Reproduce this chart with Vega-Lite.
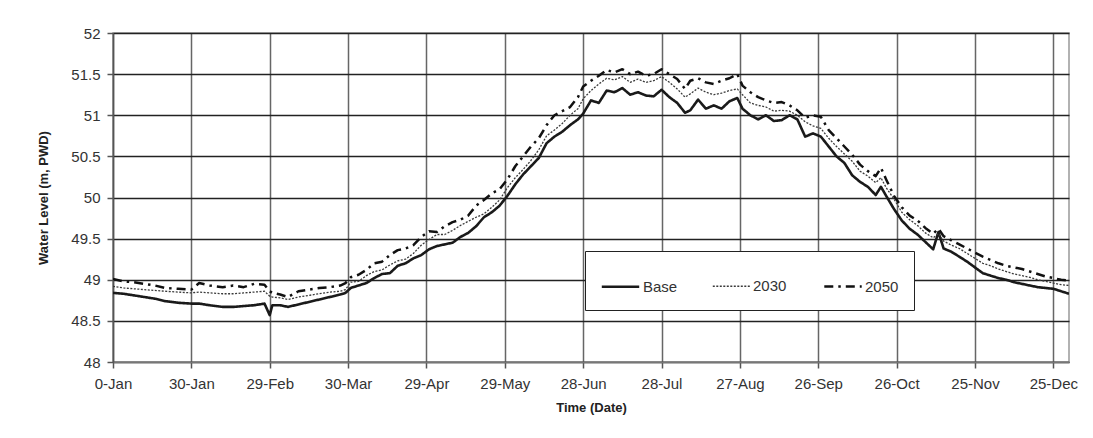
{
  "$schema": "https://vega.github.io/schema/vega-lite/v6.json",
  "width": 956,
  "height": 329,
  "autosize": "none",
  "padding": {"left": 113, "top": 33, "right": 24, "bottom": 76},
  "background": "white",
  "config": {
    "view": {"stroke": "#999999", "strokeWidth": 1.5},
    "font": "Liberation Sans"
  },
  "data": {"values": [
    {"d":0,"Base":48.84,"2030":48.92,"2050":49.01},
    {"d":4,"Base":48.83,"2030":48.90,"2050":48.98},
    {"d":8,"Base":48.81,"2030":48.89,"2050":48.97},
    {"d":12,"Base":48.79,"2030":48.88,"2050":48.95},
    {"d":16,"Base":48.77,"2030":48.87,"2050":48.93},
    {"d":20,"Base":48.74,"2030":48.86,"2050":48.90},
    {"d":25,"Base":48.72,"2030":48.85,"2050":48.89},
    {"d":30,"Base":48.71,"2030":48.84,"2050":48.88},
    {"d":33,"Base":48.71,"2030":48.85,"2050":48.96},
    {"d":37,"Base":48.69,"2030":48.84,"2050":48.93},
    {"d":42,"Base":48.67,"2030":48.83,"2050":48.91},
    {"d":46,"Base":48.67,"2030":48.83,"2050":48.93},
    {"d":50,"Base":48.68,"2030":48.84,"2050":48.91},
    {"d":54,"Base":48.69,"2030":48.85,"2050":48.95},
    {"d":58,"Base":48.71,"2030":48.86,"2050":48.94},
    {"d":60,"Base":48.57,"2030":48.80,"2050":48.86},
    {"d":61,"Base":48.69,"2030":48.79,"2050":48.84},
    {"d":64,"Base":48.69,"2030":48.78,"2050":48.82},
    {"d":67,"Base":48.67,"2030":48.76,"2050":48.79},
    {"d":71,"Base":48.70,"2030":48.79,"2050":48.86},
    {"d":75,"Base":48.73,"2030":48.81,"2050":48.88},
    {"d":79,"Base":48.76,"2030":48.83,"2050":48.90},
    {"d":83,"Base":48.79,"2030":48.85,"2050":48.91},
    {"d":87,"Base":48.82,"2030":48.86,"2050":48.93},
    {"d":89,"Base":48.84,"2030":48.88,"2050":48.96},
    {"d":91,"Base":48.90,"2030":48.97,"2050":49.03},
    {"d":94,"Base":48.93,"2030":48.98,"2050":49.06},
    {"d":97,"Base":48.96,"2030":49.05,"2050":49.12},
    {"d":100,"Base":49.02,"2030":49.10,"2050":49.20},
    {"d":103,"Base":49.07,"2030":49.12,"2050":49.22},
    {"d":106,"Base":49.08,"2030":49.18,"2050":49.30},
    {"d":109,"Base":49.17,"2030":49.23,"2050":49.36},
    {"d":112,"Base":49.20,"2030":49.25,"2050":49.38},
    {"d":115,"Base":49.26,"2030":49.32,"2050":49.42},
    {"d":118,"Base":49.30,"2030":49.42,"2050":49.52},
    {"d":121,"Base":49.37,"2030":49.49,"2050":49.59},
    {"d":124,"Base":49.41,"2030":49.55,"2050":49.58},
    {"d":127,"Base":49.43,"2030":49.55,"2050":49.65},
    {"d":130,"Base":49.45,"2030":49.60,"2050":49.70},
    {"d":133,"Base":49.52,"2030":49.66,"2050":49.73},
    {"d":136,"Base":49.57,"2030":49.71,"2050":49.78},
    {"d":139,"Base":49.65,"2030":49.76,"2050":49.90},
    {"d":142,"Base":49.76,"2030":49.80,"2050":49.97},
    {"d":145,"Base":49.82,"2030":49.88,"2050":50.05},
    {"d":148,"Base":49.90,"2030":49.97,"2050":50.10},
    {"d":151,"Base":50.02,"2030":50.12,"2050":50.22},
    {"d":154,"Base":50.16,"2030":50.24,"2050":50.38},
    {"d":157,"Base":50.28,"2030":50.34,"2050":50.50},
    {"d":160,"Base":50.38,"2030":50.45,"2050":50.62},
    {"d":163,"Base":50.48,"2030":50.58,"2050":50.72},
    {"d":166,"Base":50.66,"2030":50.75,"2050":50.88},
    {"d":169,"Base":50.74,"2030":50.82,"2050":51.00},
    {"d":172,"Base":50.80,"2030":50.90,"2050":51.05},
    {"d":175,"Base":50.88,"2030":51.00,"2050":51.10},
    {"d":178,"Base":50.95,"2030":51.08,"2050":51.22},
    {"d":180,"Base":51.02,"2030":51.20,"2050":51.35},
    {"d":183,"Base":51.18,"2030":51.30,"2050":51.42},
    {"d":186,"Base":51.15,"2030":51.38,"2050":51.48},
    {"d":189,"Base":51.30,"2030":51.45,"2050":51.55},
    {"d":192,"Base":51.28,"2030":51.43,"2050":51.52},
    {"d":195,"Base":51.33,"2030":51.47,"2050":51.56},
    {"d":198,"Base":51.25,"2030":51.40,"2050":51.50},
    {"d":201,"Base":51.28,"2030":51.44,"2050":51.53},
    {"d":204,"Base":51.24,"2030":51.40,"2050":51.48},
    {"d":207,"Base":51.23,"2030":51.42,"2050":51.50},
    {"d":210,"Base":51.31,"2030":51.47,"2050":51.56},
    {"d":213,"Base":51.22,"2030":51.40,"2050":51.50},
    {"d":216,"Base":51.15,"2030":51.32,"2050":51.44},
    {"d":219,"Base":51.03,"2030":51.22,"2050":51.32},
    {"d":221,"Base":51.06,"2030":51.26,"2050":51.42},
    {"d":224,"Base":51.19,"2030":51.33,"2050":51.45},
    {"d":227,"Base":51.08,"2030":51.28,"2050":51.40},
    {"d":230,"Base":51.12,"2030":51.25,"2050":51.38},
    {"d":233,"Base":51.08,"2030":51.27,"2050":51.42},
    {"d":236,"Base":51.17,"2030":51.30,"2050":51.45},
    {"d":239,"Base":51.21,"2030":51.32,"2050":51.50},
    {"d":241,"Base":51.08,"2030":51.25,"2050":51.36},
    {"d":244,"Base":51.00,"2030":51.15,"2050":51.28},
    {"d":247,"Base":50.95,"2030":51.12,"2050":51.22},
    {"d":250,"Base":51.00,"2030":51.10,"2050":51.18},
    {"d":253,"Base":50.93,"2030":51.05,"2050":51.15},
    {"d":256,"Base":50.94,"2030":51.06,"2050":51.16},
    {"d":259,"Base":51.00,"2030":51.05,"2050":51.12},
    {"d":262,"Base":50.95,"2030":51.00,"2050":51.06},
    {"d":265,"Base":50.74,"2030":50.92,"2050":50.97},
    {"d":268,"Base":50.78,"2030":50.87,"2050":51.00},
    {"d":271,"Base":50.74,"2030":50.84,"2050":50.98},
    {"d":274,"Base":50.62,"2030":50.72,"2050":50.82},
    {"d":277,"Base":50.50,"2030":50.62,"2050":50.72},
    {"d":280,"Base":50.42,"2030":50.53,"2050":50.62},
    {"d":283,"Base":50.27,"2030":50.44,"2050":50.52},
    {"d":286,"Base":50.19,"2030":50.32,"2050":50.40},
    {"d":289,"Base":50.13,"2030":50.26,"2050":50.32},
    {"d":292,"Base":50.03,"2030":50.18,"2050":50.26},
    {"d":294,"Base":50.13,"2030":50.24,"2050":50.36},
    {"d":296,"Base":50.02,"2030":50.12,"2050":50.22},
    {"d":299,"Base":49.86,"2030":49.98,"2050":50.02},
    {"d":302,"Base":49.72,"2030":49.82,"2050":49.88},
    {"d":305,"Base":49.62,"2030":49.73,"2050":49.78},
    {"d":308,"Base":49.55,"2030":49.66,"2050":49.72},
    {"d":311,"Base":49.46,"2030":49.57,"2050":49.63},
    {"d":314,"Base":49.37,"2030":49.51,"2050":49.56},
    {"d":316,"Base":49.58,"2030":49.56,"2050":49.62},
    {"d":318,"Base":49.38,"2030":49.47,"2050":49.53},
    {"d":321,"Base":49.34,"2030":49.42,"2050":49.48},
    {"d":324,"Base":49.28,"2030":49.38,"2050":49.43},
    {"d":327,"Base":49.22,"2030":49.32,"2050":49.38},
    {"d":330,"Base":49.15,"2030":49.26,"2050":49.33},
    {"d":333,"Base":49.08,"2030":49.20,"2050":49.28},
    {"d":336,"Base":49.05,"2030":49.17,"2050":49.24},
    {"d":339,"Base":49.02,"2030":49.13,"2050":49.20},
    {"d":342,"Base":49.00,"2030":49.10,"2050":49.17},
    {"d":345,"Base":48.97,"2030":49.07,"2050":49.15},
    {"d":348,"Base":48.95,"2030":49.05,"2050":49.13},
    {"d":351,"Base":48.93,"2030":49.03,"2050":49.10},
    {"d":354,"Base":48.91,"2030":49.00,"2050":49.07},
    {"d":357,"Base":48.90,"2030":48.98,"2050":49.04},
    {"d":360,"Base":48.89,"2030":48.96,"2050":49.02},
    {"d":363,"Base":48.86,"2030":48.94,"2050":49.00},
    {"d":366,"Base":48.83,"2030":48.93,"2050":48.99}
  ]},
  "transform": [{"fold": ["Base", "2030", "2050"], "as": ["series", "level"]}],
  "mark": {"type": "line", "strokeJoin": "round", "clip": true},
  "encoding": {
    "x": {
      "field": "d", "type": "quantitative",
      "scale": {"domain": [0, 366], "nice": false, "zero": false},
      "axis": {
        "title": "Time (Date)",
        "values": [0, 30, 60, 90, 120, 150, 180, 210, 240, 270, 300, 330, 360],
        "labelExpr": "['0-Jan','30-Jan','29-Feb','30-Mar','29-Apr','29-May','28-Jun','28-Jul','27-Aug','26-Sep','26-Oct','25-Nov','25-Dec'][round(datum.value/30)]",
        "labelFont": "Liberation Sans", "labelFontSize": 15, "labelColor": "#333333",
        "labelPadding": 8, "labelFlush": false,
        "tickSize": 6, "tickColor": "#555555", "tickWidth": 1.5,
        "domainColor": "#777777", "domainWidth": 1.5,
        "grid": true, "gridColor": "#666666", "gridWidth": 1.5,
        "titleFont": "Liberation Sans", "titleFontSize": 13, "titleFontWeight": "bold", "titleColor": "#222222",
        "titlePadding": 10
      }
    },
    "y": {
      "field": "level", "type": "quantitative",
      "scale": {"domain": [48, 52], "nice": false, "zero": false},
      "axis": {
        "title": "Water Level (m, PWD)",
        "values": [48, 48.5, 49, 49.5, 50, 50.5, 51, 51.5, 52],
        "format": "~g",
        "labelFont": "Liberation Sans", "labelFontSize": 15, "labelColor": "#333333",
        "labelPadding": 7,
        "tickSize": 6, "tickColor": "#555555", "tickWidth": 1.5,
        "domainColor": "#555555", "domainWidth": 1.5,
        "grid": true, "gridColor": "#222222", "gridWidth": 1.5,
        "titleFont": "Liberation Sans", "titleFontSize": 13, "titleFontWeight": "bold", "titleColor": "#222222",
        "titlePadding": 20
      }
    },
    "color": {
      "field": "series", "type": "nominal",
      "scale": {"domain": ["Base", "2030", "2050"], "range": ["#1a1a1a", "#3a3a3a", "#111111"]},
      "legend": {
        "title": null, "orient": "none", "direction": "horizontal",
        "legendX": 472, "legendY": 218,
        "strokeColor": "#222222", "fillColor": "white", "padding": 15,
        "symbolType": "stroke", "symbolSize": 1400,
        "labelFont": "Liberation Sans", "labelFontSize": 15, "labelColor": "#333333",
        "labelOffset": 2, "columnPadding": 32
      }
    },
    "strokeDash": {
      "field": "series", "type": "nominal",
      "scale": {"domain": ["Base", "2030", "2050"], "range": [[1, 0], [2, 1.5], [9, 5, 2.5, 5]]},
      "legend": {
        "title": null, "orient": "none", "direction": "horizontal",
        "legendX": 472, "legendY": 218,
        "strokeColor": "#222222", "fillColor": "white", "padding": 15,
        "symbolType": "stroke", "symbolSize": 1400,
        "labelFont": "Liberation Sans", "labelFontSize": 15, "labelColor": "#333333",
        "labelOffset": 2, "columnPadding": 32
      }
    },
    "strokeWidth": {
      "field": "series", "type": "nominal",
      "scale": {"type": "ordinal", "domain": ["Base", "2030", "2050"], "range": [2.6, 1.3, 2.5]},
      "legend": {
        "title": null, "orient": "none", "direction": "horizontal",
        "legendX": 472, "legendY": 218,
        "strokeColor": "#222222", "fillColor": "white", "padding": 15,
        "symbolType": "stroke", "symbolSize": 1400,
        "labelFont": "Liberation Sans", "labelFontSize": 15, "labelColor": "#333333",
        "labelOffset": 2, "columnPadding": 32
      }
    }
  }
}
